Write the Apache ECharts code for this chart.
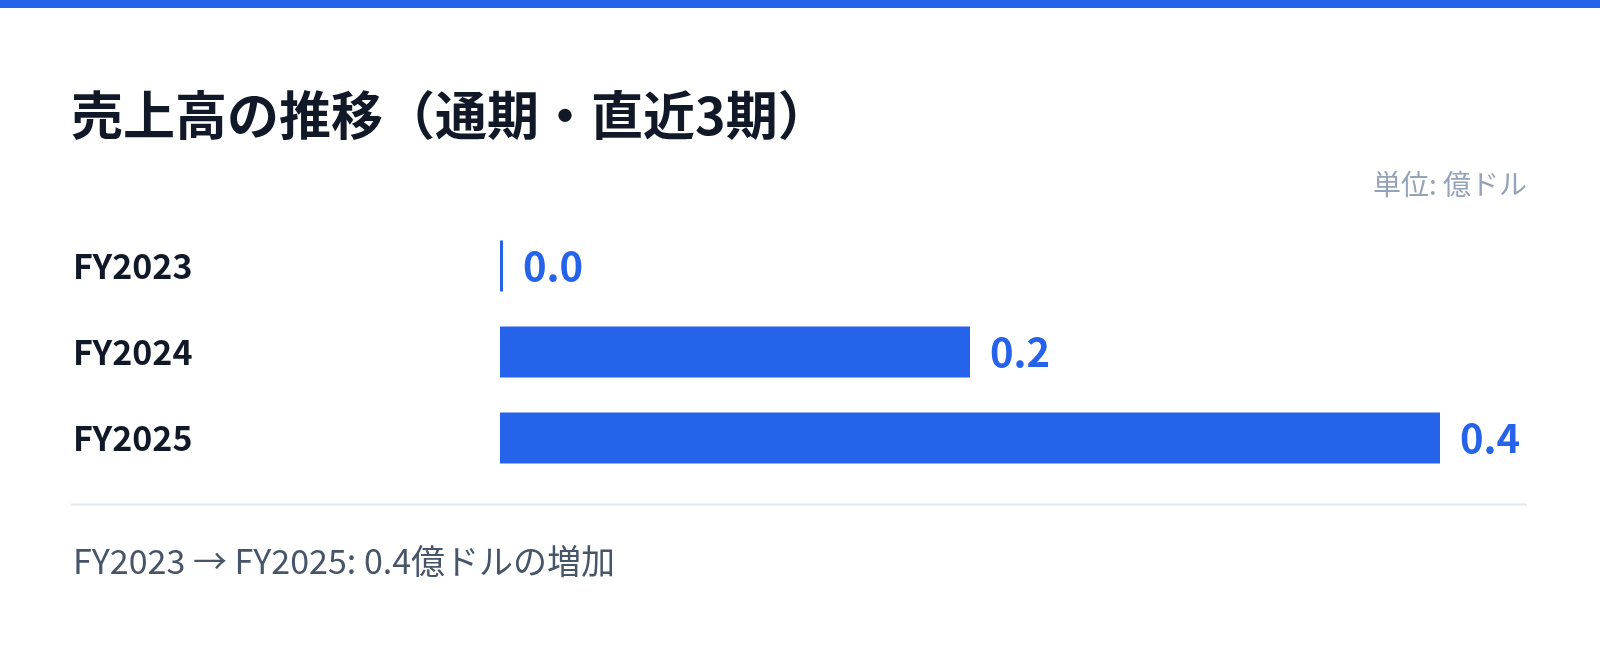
<!DOCTYPE html>
<html><head><meta charset="utf-8">
<script src="https://cdn.jsdelivr.net/npm/echarts@6/dist/echarts.min.js"></script>
<style>html,body{margin:0;padding:0;background:#fff;}#c{width:1600px;height:647px;}</style>
</head><body><div id="c"></div>
<script>
const categories = ['FY2023', 'FY2024', 'FY2025'];
const sales = [0.0, 0.2, 0.4];
const titleText = '売上高の推移（通期・直近3期）';
const unitText = '単位: 億ドル';
const footerText = 'FY2023 → FY2025: 0.4億ドルの増加';

const FONT = '"Noto Sans CJK JP", "Noto Sans", sans-serif';
const chart = echarts.init(document.getElementById('c'));
chart.setOption({
  animation: false,
  backgroundColor: '#ffffff',
  grid: { left: 500, right: 160, top: 223, bottom: 166 },
  xAxis: { type: 'value', min: 0, max: 0.4, show: false },
  yAxis: {
    type: 'category', data: categories, inverse: true,
    axisLine: { show: false }, axisTick: { show: false }, splitLine: { show: false },
    axisLabel: { align: 'left', margin: 427, fontFamily: FONT, fontSize: 34, fontWeight: 'bold', color: '#111827' }
  },
  series: [{
    type: 'bar', data: sales, barWidth: 51, barMinHeight: 3,
    itemStyle: { color: '#2563eb' },
    label: { show: true, position: 'right', distance: 20, fontFamily: FONT, fontSize: 40, fontWeight: 'bold', color: '#2563eb',
      formatter: p => p.value.toFixed(1) }
  }],
  graphic: [
    { type: 'rect', shape: { x: 0, y: 0, width: 1600, height: 8 }, style: { fill: '#2563eb' } },
    { type: 'text', x: 71, y: 115, style: { text: titleText, font: 'bold 52px ' + FONT, fill: '#111827', textVerticalAlign: 'middle' } },
    { type: 'text', x: 1527, y: 184, style: { text: unitText, font: '28px ' + FONT, fill: '#94a3b8', textAlign: 'right', textVerticalAlign: 'middle' } },
    { type: 'line', shape: { x1: 71, y1: 504.5, x2: 1527, y2: 504.5 }, style: { stroke: '#e2e8f0', lineWidth: 2 } },
    { type: 'text', x: 73, y: 561, style: { text: footerText, font: '34px ' + FONT, fill: '#475569', textVerticalAlign: 'middle' } }
  ]
});
</script></body></html>
